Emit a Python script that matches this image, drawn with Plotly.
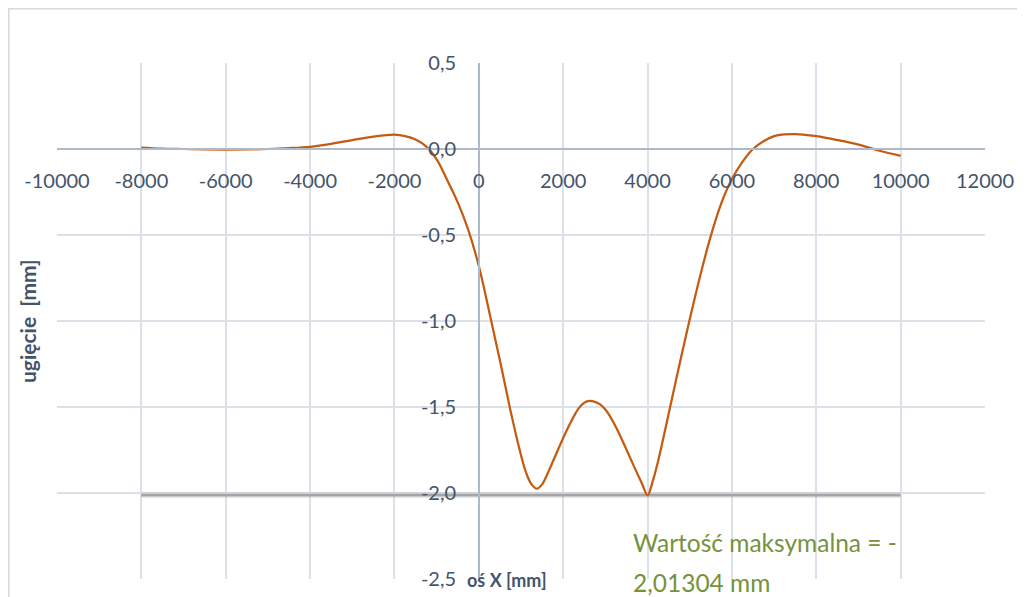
import plotly.graph_objects as go

# --- data ---
x_mm = [-8000, -7500, -7000, -6500, -6000, -5500, -5000, -4500, -4000, -3500,
        -3000, -2500, -2000, -1750, -1500, -1250, -1000, -750, -500, -250,
        0, 250, 500, 750, 875, 1000, 1125, 1250, 1375, 1500,
        1625, 1750, 1875, 2000, 2125, 2250, 2375, 2500, 2625, 2750,
        2875, 3000, 3125, 3250, 3375, 3500, 3625, 3750, 3875, 4000,
        4125, 4250, 4375, 4500, 4625, 4750, 4875, 5000, 5250, 5500,
        5750, 6000, 6250, 6500, 6750, 7000, 7250, 7500, 7750, 8000,
        8500, 9000, 9500, 10000]
deflection = [0.008, 0.002, 0.0, -0.002, -0.003, -0.002, 0.0, 0.005, 0.013, 0.03,
              0.052, 0.072, 0.083, 0.075, 0.055, 0.015, -0.06, -0.18, -0.31, -0.47,
              -0.68, -0.95, -1.23, -1.52, -1.655, -1.78, -1.885, -1.95, -1.975, -1.95,
              -1.89, -1.82, -1.75, -1.68, -1.615, -1.555, -1.505, -1.475, -1.465, -1.47,
              -1.485, -1.515, -1.56, -1.616, -1.68, -1.748, -1.816, -1.883, -1.949, -2.013,
              -1.93, -1.815, -1.68, -1.54, -1.40, -1.26, -1.125, -0.99, -0.735, -0.505,
              -0.315, -0.175, -0.075, 0.0, 0.045, 0.075, 0.085, 0.087, 0.082, 0.075,
              0.052, 0.025, -0.01, -0.04]
max_x = [-8000, 10000]
max_y = [-2.01304, -2.01304]

x_ticks = [-10000, -8000, -6000, -4000, -2000, 0, 2000, 4000, 6000, 8000, 10000, 12000]
x_ticktext = ["-10000", "-8000", "-6000", "-4000", "-2000", "0", "2000", "4000",
              "6000", "8000", "10000", "12000"]
y_ticks = [0.5, 0.0, -0.5, -1.0, -1.5, -2.0, -2.5]
y_ticktext = ["0,5", "0,0", "-0,5", "-1,0", "-1,5", "-2,0", "-2,5"]

FONT = "Lato"
TXT = "#44546A"
GRID = "#DCE1E9"
AXL = "#AEBACB"

fig = go.Figure()
fig.add_trace(go.Scatter(x=max_x, y=max_y, mode="lines",
                         line=dict(color="rgba(0,0,0,0.08)", width=6),
                         hoverinfo="skip", showlegend=False))
fig.add_trace(go.Scatter(x=max_x, y=max_y, mode="lines",
                         line=dict(color="#A5A5A5", width=2.5),
                         showlegend=False))
fig.add_trace(go.Scatter(x=x_mm, y=deflection, mode="lines",
                         line=dict(color="#C55A11", width=2.25, shape="spline", smoothing=1.0),
                         showlegend=False))

# page body has an 8px margin, so the figure is 8px smaller and offset
fig.update_layout(
    width=1017, height=589,
    margin=dict(l=49, r=40, t=55, b=18),
    paper_bgcolor="white", plot_bgcolor="white",
    font=dict(family=FONT, color=TXT),
    xaxis=dict(range=[-10000, 12000], tickvals=x_ticks, ticktext=x_ticktext,
               showgrid=True, gridcolor=GRID, gridwidth=1.5, automargin=False,
               zeroline=False, showline=True, linecolor=AXL, linewidth=1.5,
               anchor="free", position=2.5 / 3.0,
               ticks="", ticklabelstandoff=14,
               tickfont=dict(family=FONT, size=20, color=TXT)),
    yaxis=dict(range=[-2.5, 0.5], tickvals=y_ticks, ticktext=y_ticktext,
               showgrid=True, gridcolor=GRID, gridwidth=1.5, automargin=False,
               zeroline=False, showline=True, linecolor=AXL, linewidth=1.5,
               anchor="free", position=10000 / 22000,
               ticks="", ticklabelstandoff=18,
               tickfont=dict(family=FONT, size=20, color=TXT)),
    shapes=[dict(type="rect", xref="paper", yref="paper",
                 x0=(8.8 - 57) / 928, x1=(1040 - 57) / 928,
                 y0=(579 - 610) / 516, y1=(579 - 8.8) / 516,
                 line=dict(color="#D9D9D9", width=1.5), layer="below")],
    annotations=[
        dict(text="<b>ugięcie  [mm]</b>", textangle=-90, xref="paper", yref="paper",
             x=(27 - 57) / 928, y=0.5, xanchor="center", yanchor="middle",
             showarrow=False, font=dict(family=FONT, size=21, color=TXT)),
        dict(text="<b>oś X [mm]</b>", xref="paper", yref="paper",
             x=(507 - 57) / 928, y=(579 - 580) / 516, xanchor="center", yanchor="middle",
             showarrow=False, font=dict(family=FONT, size=18, color=TXT)),
        dict(text="Wartość maksymalna = -", xref="paper", yref="paper",
             x=(631 - 57) / 928, y=(579 - 542) / 516, xanchor="left", yanchor="middle",
             showarrow=False, font=dict(family=FONT, size=24.5, color="#76923C")),
        dict(text="2,01304 mm", xref="paper", yref="paper",
             x=(631 - 57) / 928, y=(579 - 582) / 516, xanchor="left", yanchor="middle",
             showarrow=False, font=dict(family=FONT, size=24.5, color="#76923C")),
    ],
)

fig.write_html("out.html")
